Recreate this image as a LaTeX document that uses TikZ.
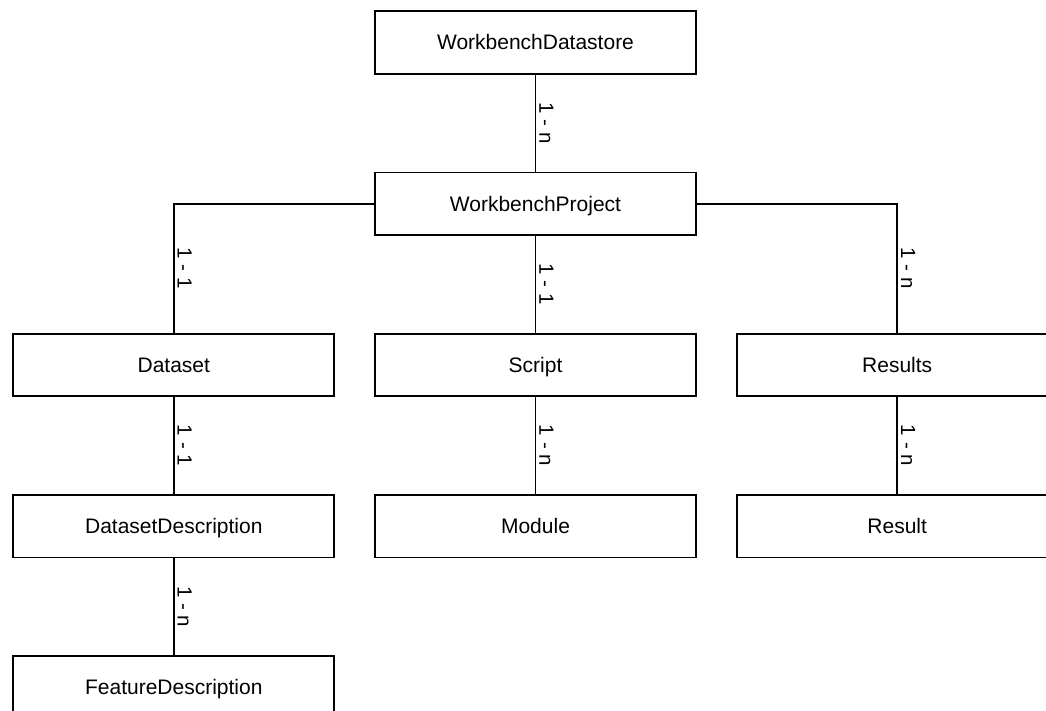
\documentclass[tikz,border=0pt]{standalone}
\usepackage{fontspec}
\setmainfont{Liberation Sans}
\usepackage{tikz}
\usetikzlibrary{positioning}
\tikzset{
    %Define style for boxes
    entity/.style={
           rectangle,
           draw=black, line width=1.7pt,
           minimum width=321pt,
           minimum height=62.5pt,
           text height=15pt,
           text depth=0pt,
           font=\fontsize{21}{25}\selectfont,
           text centered},
    % Define style for multiplicity labels
    mult/.style={
           rotate=-90,
           anchor=south,
           inner sep=3pt,
           font=\fontsize{20.5}{24}\selectfont},
    % Define line style
    link/.style={
           line width=1.7pt}
}
\begin{document}
\begin{tikzpicture}[node distance=97pt and 39pt]
\useasboundingbox (0,0) rectangle (1046pt,-711pt);
 %nodes
\node[entity] (store) at (535.5pt,-42.5pt) {WorkbenchDatastore};
\node[entity, below=of store] (project) {WorkbenchProject};
\node[entity, below=of project] (script) {Script};
\node[entity, left=of script] (dataset) {Dataset};
\node[entity, right=of script] (results) {Results};
\node[entity, below=of dataset] (datadesc) {DatasetDescription};
\node[entity, below=of datadesc] (featdesc) {FeatureDescription};
\node[entity, below=of script] (module) {Module};
\node[entity, below=of results] (result) {Result};

 %links
\draw[link] (store) -- node[mult] {1 - n} (project);
\draw[link] (project.west) -| node[mult, pos=.75] {1 - 1} (dataset.north);
\draw[link] (project) -- node[mult] {1 - 1} (script);
\draw[link] (project.east) -| node[mult, pos=.75] {1 - n} (results.north);
\draw[link] (dataset) -- node[mult] {1 - 1} (datadesc);
\draw[link] (datadesc) -- node[mult] {1 - n} (featdesc);
\draw[link] (script) -- node[mult] {1 - n} (module);
\draw[link] (results) -- node[mult] {1 - n} (result);
\end{tikzpicture}
\end{document}
